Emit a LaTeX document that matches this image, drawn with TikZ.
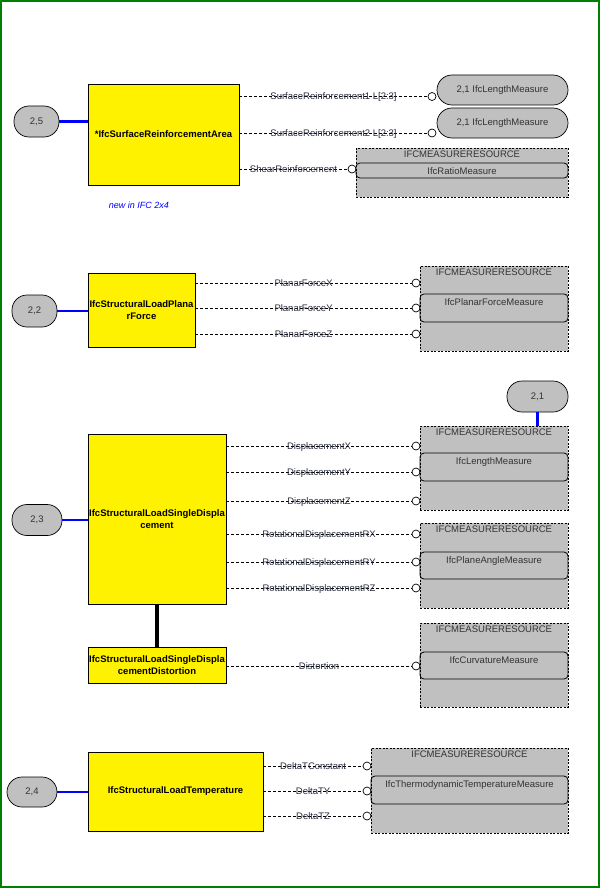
\documentclass[tikz,border=0pt]{standalone}
\usepackage{fontspec}
\setmainfont{Liberation Sans}
\definecolor{ovalgray}{RGB}{192,192,192}
\definecolor{lblcol}{RGB}{40,44,60}
\definecolor{framegreen}{RGB}{0,128,0}
\begin{document}
\begin{tikzpicture}[x=1pt,y=-1pt,
	every node/.style={font=\fontsize{9.5}{11}\selectfont,inner sep=0pt},
	entity/.style={draw,fill=yellow,line width=0.9pt,align=center,font=\fontsize{9.5}{11.5}\selectfont\bfseries},
	refoval/.style={draw,fill=ovalgray,rounded corners=15pt,line width=0.7pt,text=black!80},
	mrgroup/.style={draw,fill=ovalgray,dash pattern=on 2pt off 1.5pt,line width=0.7pt},
	mrinner/.style={draw,rounded corners=4pt,line width=0.8pt},
	gtext/.style={text=black!80,anchor=north},
	port/.style={circle,draw,fill=white,minimum size=8pt,line width=0.7pt},
	link/.style={dash pattern=on 3pt off 2pt,line width=0.7pt},
	lbl/.style={text=lblcol,anchor=base,yshift=-3.2pt},
	refline/.style={blue,line width=2.5pt},
	subline/.style={line width=4pt}]
	\useasboundingbox (0,0) rectangle (600,888);
	\draw[framegreen,line width=2pt] (1,1) rectangle (599,887);

	% surface reinforcement
	\node[entity,minimum width=151,minimum height=101] (sra) at (163.5,134.5) {*IfcSurfaceReinforcementArea};
	\node[refoval,minimum width=45,minimum height=31] (o25) at (36.5,121.5) {2,5};
	\draw[refline] (o25.east) -- (o25.east -| sra.west);
	\node[text=blue,font=\fontsize{9}{11}\selectfont\itshape] (note) at (139,205) {new in IFC 2x4};
	\node[port] (pA) at (432,96.5) {};
	\node[port] (pB) at (432,133) {};
	\node[port] (pC) at (352,169) {};
	\draw[link] (sra.east |- pA) -- node[lbl] {SurfaceReinforcement1 L[2:3]} (pA);
	\draw[link] (sra.east |- pB) -- node[lbl] {SurfaceReinforcement2 L[2:3]} (pB);
	\draw[link] (sra.east |- pC) -- node[lbl] {ShearReinforcement} (pC);
	\node[refoval,minimum width=131,minimum height=30] (lenA) at (502.5,90) {2,1 IfcLengthMeasure};
	\node[refoval,minimum width=131,minimum height=30] (lenB) at (502.5,123) {2,1 IfcLengthMeasure};
	\node[mrgroup,minimum width=212,minimum height=49] (mrA) at (462,172.5) {};
	\node[gtext] (mrAt) at ([yshift=-3.5pt]mrA.north) {IFCMEASURERESOURCE};
	\node[mrinner,minimum width=212,minimum height=15] (mrAi) at (462,170.5) {};
	\node[gtext] (mrAn) at ([yshift=-5pt]mrAi.north) {IfcRatioMeasure};

	% planar force
	\node[entity,minimum width=107,minimum height=74] (plf) at (141.5,310) {IfcStructuralLoadPlana\\rForce};
	\node[refoval,minimum width=45,minimum height=32] (o22) at (34.5,311) {2,2};
	\draw[refline] (o22.east) -- (o22.east -| plf.west);
	\node[port] (pD) at (416,283) {};
	\node[port] (pE) at (416,308) {};
	\node[port] (pF) at (416,334) {};
	\draw[link] (plf.east |- pD) -- node[lbl] {PlanarForceX} (pD);
	\draw[link] (plf.east |- pE) -- node[lbl] {PlanarForceY} (pE);
	\draw[link] (plf.east |- pF) -- node[lbl] {PlanarForceZ} (pF);
	\node[mrgroup,minimum width=148,minimum height=85] (mrB) at (494,308.5) {};
	\node[gtext] (mrBt) at ([yshift=-3.5pt]mrB.north) {IFCMEASURERESOURCE};
	\node[mrinner,minimum width=148,minimum height=28] (mrBi) at (494,308) {};
	\node[gtext] (mrBn) at ([yshift=-5pt]mrBi.north) {IfcPlanarForceMeasure};

	% single displacement
	\node[entity,minimum width=138,minimum height=170] (sld) at (157,519) {IfcStructuralLoadSingleDispla\\cement};
	\node[entity,minimum width=138,minimum height=36] (sldd) at (157,665) {IfcStructuralLoadSingleDispla\\cementDistortion};
	\draw[subline] (sld.south) -- (sldd.north);
	\node[refoval,minimum width=50,minimum height=31] (o23) at (37,520) {2,3};
	\draw[refline] (o23.east) -- (o23.east -| sld.west);
	\node[port] (pG) at (416,446) {};
	\node[port] (pH) at (416,472) {};
	\node[port] (pI) at (416,501) {};
	\node[port] (pJ) at (416,534) {};
	\node[port] (pK) at (416,562) {};
	\node[port] (pL) at (416,588) {};
	\node[port] (pM) at (416,666) {};
	\draw[link] (sld.east |- pG) -- node[lbl] {DisplacementX} (pG);
	\draw[link] (sld.east |- pH) -- node[lbl] {DisplacementY} (pH);
	\draw[link] (sld.east |- pI) -- node[lbl] {DisplacementZ} (pI);
	\draw[link] (sld.east |- pJ) -- node[lbl] {RotationalDisplacementRX} (pJ);
	\draw[link] (sld.east |- pK) -- node[lbl] {RotationalDisplacementRY} (pK);
	\draw[link] (sld.east |- pL) -- node[lbl] {RotationalDisplacementRZ} (pL);
	\draw[link] (sldd.east |- pM) -- node[lbl] {Distortion} (pM);
	\node[mrgroup,minimum width=148,minimum height=84] (mrC) at (494,468) {};
	\node[gtext] (mrCt) at ([yshift=-3.5pt]mrC.north) {IFCMEASURERESOURCE};
	\node[mrinner,minimum width=148,minimum height=28] (mrCi) at (494,467) {};
	\node[gtext] (mrCn) at ([yshift=-5pt]mrCi.north) {IfcLengthMeasure};
	\node[refoval,minimum width=61,minimum height=31] (o21) at (537.5,396.5) {2,1};
	\draw[refline] (o21.south) -- (o21.south |- mrC.north);
	\node[mrgroup,minimum width=148,minimum height=85] (mrD) at (494,565.5) {};
	\node[gtext] (mrDt) at ([yshift=-3.5pt]mrD.north) {IFCMEASURERESOURCE};
	\node[mrinner,minimum width=148,minimum height=27] (mrDi) at (494,565.5) {};
	\node[gtext] (mrDn) at ([yshift=-5pt]mrDi.north) {IfcPlaneAngleMeasure};
	\node[mrgroup,minimum width=148,minimum height=84] (mrE) at (494,665) {};
	\node[gtext] (mrEt) at ([yshift=-3.5pt]mrE.north) {IFCMEASURERESOURCE};
	\node[mrinner,minimum width=148,minimum height=27] (mrEi) at (494,665.5) {};
	\node[gtext] (mrEn) at ([yshift=-5pt]mrEi.north) {IfcCurvatureMeasure};

	% temperature
	\node[entity,minimum width=175,minimum height=79] (tmp) at (175.5,791.5) {IfcStructuralLoadTemperature};
	\node[refoval,minimum width=50,minimum height=30] (o24) at (32,792) {2,4};
	\draw[refline] (o24.east) -- (o24.east -| tmp.west);
	\node[port] (pN) at (367,766) {};
	\node[port] (pO) at (367,791) {};
	\node[port] (pP) at (367,816) {};
	\draw[link] (tmp.east |- pN) -- node[lbl] {DeltaTConstant} (pN);
	\draw[link] (tmp.east |- pO) -- node[lbl] {DeltaTY} (pO);
	\draw[link] (tmp.east |- pP) -- node[lbl] {DeltaTZ} (pP);
	\node[mrgroup,minimum width=197,minimum height=85] (mrF) at (469.5,790.5) {};
	\node[gtext] (mrFt) at ([yshift=-3.5pt]mrF.north) {IFCMEASURERESOURCE};
	\node[mrinner,minimum width=197,minimum height=28] (mrFi) at (469.5,790) {};
	\node[gtext] (mrFn) at ([yshift=-5pt]mrFi.north) {IfcThermodynamicTemperatureMeasure};
\end{tikzpicture}
\end{document}
